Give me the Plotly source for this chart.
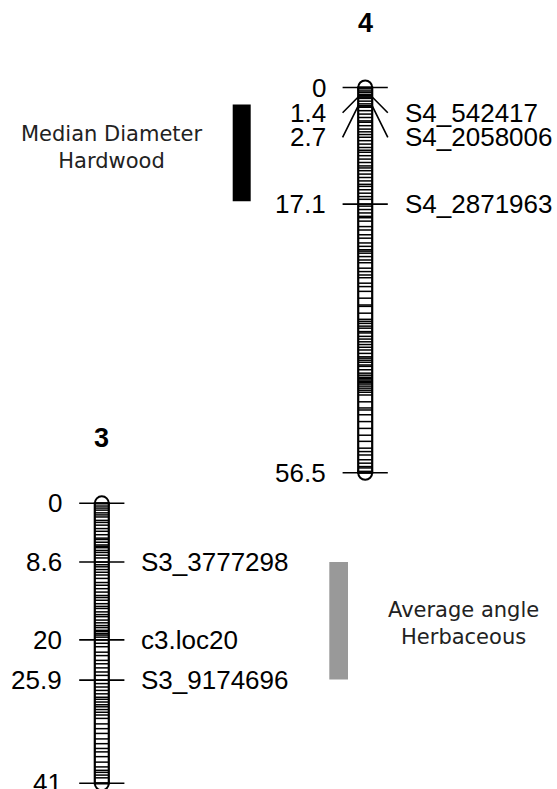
import plotly.graph_objects as go

# ---------------- data ----------------
chr4_name = "4"
chr4_length = 56.5
chr4_bands = [0, 0.2, 0.5, 0.7, 1.0, 1.2, 1.4, 1.6, 2.0, 2.4, 2.7, 2.9, 3.4, 3.9, 4.4, 4.9, 5.1,
              5.6, 6.1, 6.5, 6.9, 7.3, 7.8, 8.3, 8.8, 9.2, 9.5, 10.0, 10.5, 11.0, 11.5, 11.8, 12.2,
              12.7, 13.2, 13.7, 14.2, 14.5, 15.0, 15.5, 16.0, 16.4, 17.1, 17.4, 17.9, 18.4, 18.9,
              19.1, 19.6, 20.4, 20.9, 21.6, 22.1, 22.8, 23.3, 23.8, 24.0, 24.3, 24.8, 25.3, 25.7,
              26.5, 27.0, 27.5, 27.9, 28.7, 29.2, 29.9, 30.9, 31.9, 32.1, 33.1, 34.0, 34.3, 34.6,
              35.0, 35.3, 35.8, 36.0, 36.5, 36.9, 37.3, 37.7, 38.1, 38.5, 39.0, 39.5, 39.7, 40.0,
              40.3, 40.7, 40.9, 41.4, 41.9, 42.2, 42.5, 42.7, 42.9, 43.1, 43.3, 43.5, 43.8, 44.1,
              44.4, 44.7, 45.1, 46.1, 47.0, 47.3, 48.0, 49.0, 50.0, 51.0, 51.9, 52.9, 53.4, 53.9,
              54.6, 55.1, 55.6, 55.8, 56.3, 56.5]
chr4_tick_pos = [0, 1.4, 2.7, 17.1, 56.5]
chr4_tick_text = ["0", "1.4", "2.7", "17.1", "56.5"]
chr4_label_pos = [0, 3.7, 7.3, 17.1, 56.5]
chr4_marker_names = ["", "S4_542417", "S4_2058006", "S4_2871963", ""]

chr3_name = "3"
chr3_length = 41
chr3_bands = [0, 0.4, 0.7, 1.0, 1.4, 1.7, 2.0, 2.5, 2.8, 3.2, 3.7, 4.1, 4.6, 5.1, 5.3, 5.7, 6.1,
              6.3, 6.5, 6.9, 7.2, 7.6, 8.0, 8.6, 9.0, 9.3, 9.7, 10.1, 10.5, 11.0, 11.6, 12.0, 12.5,
              13.0, 13.5, 13.8, 14.2, 14.7, 15.1, 15.4, 15.9, 16.3, 16.6, 17.1, 17.5, 17.9, 18.2,
              18.6, 18.8, 19.1, 19.3, 19.6, 20.0, 20.5, 21.0, 21.8, 22.3, 23.0, 23.5, 24.1, 24.7,
              25.2, 25.9, 26.4, 26.9, 27.4, 27.9, 28.4, 28.7, 29.1, 29.5, 29.8, 30.2, 30.6, 31.0,
              31.5, 32.3, 33.0, 33.7, 34.5, 35.2, 35.9, 36.4, 37.1, 37.9, 38.6, 39.1, 39.4, 39.8,
              40.2, 41.0]
chr3_tick_pos = [0, 8.6, 20, 25.9, 41]
chr3_tick_text = ["0", "8.6", "20", "25.9", "41"]
chr3_label_pos = [0, 8.6, 20, 25.9, 41]
chr3_marker_names = ["", "S3_3777298", "c3.loc20", "S3_9174696", ""]

qtl_names = ["Median Diameter<br>Hardwood", "Average angle<br>Herbaceous"]
qtl_start = [2.5, 8.6]
qtl_end = [16.7, 25.8]
qtl_colors = ["#000000", "#999999"]

# ---------------- layout geometry ----------------
W, H = 557, 789
chr4_cx, chr3_cx = 365.2, 101.8
half_w = 7.0        # half chromosome width, px
tick_half = 22.6    # half tick length, px
label_gap = 15.0
px4 = 6.818         # px per cM
px3 = 6.829
top4 = 87.5         # pixel of 0 cM
top3 = 503.3

LABEL_FONT = dict(family="Liberation Sans, Arial, sans-serif", size=26, color="#000000")
QTL_FONT = dict(family="DejaVu Sans, sans-serif", size=21, color="#222222")

fig = go.Figure()
shapes = []
annotations = []


def draw_chrom(cx, length, bands, tpos, ttext, lpos, names, yref, scale, title, top_px):
    r = half_w / scale
    yax = "y" if yref == "y" else "y2"
    # caps
    for yc in (0, length):
        shapes.append(dict(type="circle", xref="x", yref=yref, x0=cx - half_w, x1=cx + half_w,
                           y0=yc - r, y1=yc + r, line=dict(color="black", width=2),
                           fillcolor="white", layer="below"))
    shapes.append(dict(type="rect", xref="x", yref=yref, x0=cx - half_w, x1=cx + half_w,
                       y0=0, y1=length, line=dict(color="black", width=2.2),
                       fillcolor="white", layer="below"))
    # bands
    bx, by = [], []
    for b in bands:
        bx += [cx - half_w, cx + half_w, None]
        by += [b, b, None]
    fig.add_trace(go.Scatter(x=bx, y=by, mode="lines", yaxis=yax,
                             line=dict(color="black", width=1.5), hoverinfo="skip",
                             showlegend=False))
    # ticks + connectors
    tx, ty = [], []
    for p, lp in zip(tpos, lpos):
        tx += [cx - tick_half, cx - half_w, cx + half_w, cx + tick_half, None]
        ty += [lp, p, p, lp, None]
    fig.add_trace(go.Scatter(x=tx, y=ty, mode="lines", yaxis=yax,
                             line=dict(color="black", width=1.6), hoverinfo="skip",
                             showlegend=False))
    for p, lp, t, n in zip(tpos, lpos, ttext, names):
        annotations.append(dict(x=cx - tick_half - label_gap, y=lp, xref="x", yref=yref,
                                text=t, showarrow=False, xanchor="right", yanchor="middle",
                                font=LABEL_FONT))
        if n:
            annotations.append(dict(x=cx + tick_half + label_gap, y=lp, xref="x", yref=yref,
                                    text=n, showarrow=False, xanchor="left", yanchor="middle",
                                    font=LABEL_FONT))
    annotations.append(dict(x=cx, y=-65 / scale, xref="x",
                            yref=yref, text="<b>" + title + "</b>", showarrow=False,
                            xanchor="center", yanchor="middle",
                            font=dict(family="Liberation Sans, Arial, sans-serif", size=27,
                                      color="black")))


draw_chrom(chr4_cx, chr4_length, chr4_bands, chr4_tick_pos, chr4_tick_text, chr4_label_pos,
           chr4_marker_names, "y", px4, chr4_name, top4)
draw_chrom(chr3_cx, chr3_length, chr3_bands, chr3_tick_pos, chr3_tick_text, chr3_label_pos,
           chr3_marker_names, "y2", px3, chr3_name, top3)

# QTL bars
qtl_x = [(232.7, 250.7), (329.3, 348.0)]
qtl_ref = ["y", "y2"]
qtl_text_x = [111.7, 463.8]
qtl_text_y = [8.8, 17.6]
for i in range(2):
    shapes.append(dict(type="rect", xref="x", yref=qtl_ref[i], x0=qtl_x[i][0], x1=qtl_x[i][1],
                       y0=qtl_start[i], y1=qtl_end[i], fillcolor=qtl_colors[i],
                       line=dict(width=0), layer="below"))
    annotations.append(dict(x=qtl_text_x[i], y=qtl_text_y[i], xref="x", yref=qtl_ref[i],
                            text=qtl_names[i], showarrow=False, xanchor="center",
                            yanchor="middle", align="center", font=QTL_FONT))

fig.update_layout(
    width=W, height=H,
    margin=dict(l=0, r=0, t=0, b=0),
    paper_bgcolor="white", plot_bgcolor="white",
    xaxis=dict(range=[0, W], visible=False, fixedrange=True),
    yaxis=dict(range=[(H - top4) / px4, -top4 / px4], visible=False, fixedrange=True),
    yaxis2=dict(range=[(H - top3) / px3, -top3 / px3], visible=False, overlaying="y",
                fixedrange=True),
    shapes=shapes,
    annotations=annotations,
    showlegend=False,
)

fig.write_html("out.html")
